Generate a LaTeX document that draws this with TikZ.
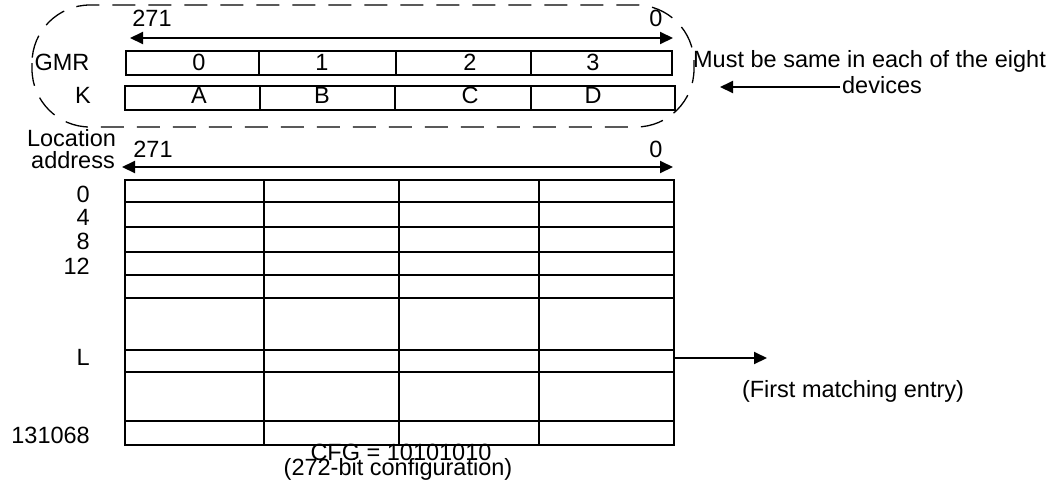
\documentclass[tikz,border=0pt]{standalone}
\usepackage{fontspec}
\setmainfont{Liberation Sans}
\usetikzlibrary{arrows.meta}
\begin{document}
\begin{tikzpicture}[x=1pt,y=-1pt,
  txt/.style={font=\fontsize{23.5}{26}\selectfont, inner sep=0pt, anchor=base},
  rtxt/.style={txt, anchor=base east},
  box/.style={line width=2pt},
  cell/.style={draw, box, inner sep=0pt, anchor=north west},
  arr/.style={line width=2pt, -{Triangle[length=13pt,width=12pt]}},
  darr/.style={line width=2pt, {Triangle[length=13pt,width=12pt]}-{Triangle[length=13pt,width=12pt]}},
  dashbound/.style={line width=1.3pt, dash pattern=on 23pt off 13pt}]
\useasboundingbox (0,0) rectangle (1060,483);

% dashed boundary
\draw[dashbound, rounded corners=58pt] (32,5) rectangle (694,127);

% top bit-range arrow
\coordinate (t1l) at (130,38);
\coordinate (t1r) at (673,38);
\draw[darr] (t1l) -- (t1r);
\node[txt] (t1a) at (152,26) {271};
\node[txt] (t1b) at (656,26) {0};

% GMR row
\node[cell, minimum width=546pt, minimum height=24pt] (gmr) at (125,50) {};
\draw[box] (259,50) -- (259,74);
\draw[box] (396,50) -- (396,74);
\draw[box] (531,50) -- (531,74);
\node[txt] (gmrlab) at (62,70) {GMR};
\node[txt] (g0) at (199,70) {0};
\node[txt] (g1) at (322,70) {1};
\node[txt] (g2) at (470,70) {2};
\node[txt] (g3) at (593,70) {3};

% K row
\node[cell, minimum width=550pt, minimum height=24pt] (krow) at (124,85) {};
\draw[box] (260,85) -- (260,109);
\draw[box] (395,85) -- (395,109);
\draw[box] (531,85) -- (531,109);
\node[txt] (klab) at (83,103) {K};
\node[txt] (k0) at (199,103) {A};
\node[txt] (k1) at (322,103) {B};
\node[txt] (k2) at (470,103) {C};
\node[txt] (k3) at (593,103) {D};

% note
\node[txt] (must1) at (869.5,67) {Must be same in each of the eight};
\node[txt] (must2) at (882,93) {devices};
\coordinate (mstart) at (840,87);
\coordinate (mend) at (720,87);
\draw[arr] (mstart) -- (mend);

% location address
\node[txt] (loc1) at (71.5,146) {Location};
\node[txt] (loc2) at (73,168) {address};
\coordinate (t2l) at (122,167);
\coordinate (t2r) at (673,167);
\draw[darr] (t2l) -- (t2r);
\node[txt] (t2a) at (153,157) {271};
\node[txt] (t2b) at (656,157) {0};

% table
\node[cell, minimum width=549pt, minimum height=265pt] (tbl) at (124,179) {};
\foreach \xx in {264,399,539} \draw[box] (\xx,179) -- (\xx,444);
\foreach \yy in {202,227,252,275,298,350,372,421} \draw[box] (124,\yy) -- (673,\yy);

\node[rtxt] (r0) at (90,202) {0};
\node[rtxt] (r4) at (90,225) {4};
\node[rtxt] (r8) at (90,249) {8};
\node[rtxt] (r12) at (90,274) {12};
\node[rtxt] (rL) at (90,365) {L};
\node[rtxt] (rlast) at (90,443) {131068};

% first match arrow
\coordinate (Lrow) at (673,358);
\coordinate (Lend) at (767,358);
\draw[arr] (Lrow) -- (Lend);
\node[txt] (fme) at (853,397) {(First matching entry)};

% configuration
\node[txt] (cfg1) at (401,460) {CFG = 10101010};
\node[txt] (cfg2) at (398,475) {(272-bit configuration)};
\end{tikzpicture}
\end{document}
